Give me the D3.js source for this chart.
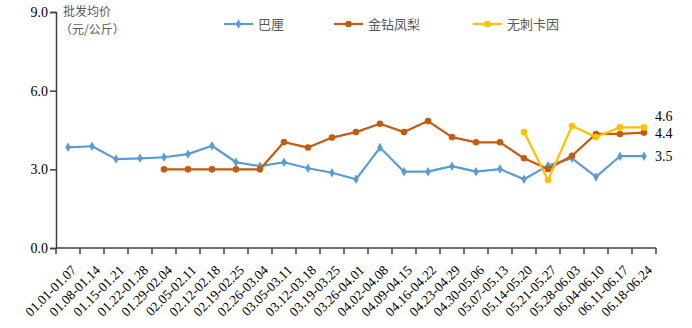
<!DOCTYPE html>
<html>
<head>
<meta charset="utf-8">
<script src="https://cdn.jsdelivr.net/npm/d3@7/dist/d3.min.js"></script>
<style>
  html, body { margin: 0; padding: 0; background: #fff; }
  svg { display: block; }
</style>
</head>
<body>
<svg id="chart" width="692" height="328"></svg>
<script>
// Weekly periods
const categories = [
  "01.01-01.07", "01.08-01.14", "01.15-01.21", "01.22-01.28", "01.29-02.04",
  "02.05-02.11", "02.12-02.18", "02.19-02.25", "02.26-03.04", "03.05-03.11",
  "03.12-03.18", "03.19-03.25", "03.26-04.01", "04.02-04.08", "04.09-04.15",
  "04.16-04.22", "04.23-04.29", "04.30-05.06", "05.07-05.13", "05.14-05.20",
  "05.21-05.27", "05.28-06.03", "06.04-06.10", "06.11-06.17", "06.18-06.24"
];

// Wholesale average price (元/公斤)
const baliPrice = [
  3.84, 3.88, 3.39, 3.42, 3.46, 3.58, 3.90, 3.27, 3.12, 3.27,
  3.04, 2.87, 2.62, 3.83, 2.91, 2.91, 3.12, 2.91, 3.01, 2.62,
  3.14, 3.42, 2.71, 3.5, 3.5
];
const jinzuanPrice = [
  null, null, null, null, 3.0, 3.0, 3.0, 3.0, 3.0, 4.04,
  3.83, 4.21, 4.42, 4.74, 4.42, 4.84, 4.23, 4.03, 4.03, 3.42,
  3.01, 3.52, 4.35, 4.35, 4.4
];
const wuciPrice = [
  null, null, null, null, null, null, null, null, null, null,
  null, null, null, null, null, null, null, null, null, 4.42,
  2.59, 4.65, 4.23, 4.6, 4.6
];

const seriesNames = ["巴厘", "金钻凤梨", "无刺卡因"];
const seriesColors = ["#5B9BD5", "#C55A11", "#FFC000"];
const yTicks = [0, 3, 6, 9];
const titleLines = ["批发均价", "（元/公斤）"];

(function () {
  const series = [
    { name: seriesNames[0], values: baliPrice, color: seriesColors[0], marker: "diamond", labelDy: 0 },
    { name: seriesNames[1], values: jinzuanPrice, color: seriesColors[1], marker: "circle", labelDy: 0 },
    { name: seriesNames[2], values: wuciPrice, color: seriesColors[2], marker: "circle", labelDy: -11 }
  ];

  const svg = d3.select("#chart");
  const plotLeft = 56, plotRight = 656, plotTop = 12, plotBottom = 248;

  const x = d3.scaleBand().domain(categories).range([plotLeft, plotRight]).padding(0);
  const y = d3.scaleLinear().domain([0, 9]).range([plotBottom, plotTop]);
  const cx = c => x(c) + x.bandwidth() / 2;

  const axisColor = "#404040";
  const serif = "'Liberation Serif', 'Times New Roman', serif";
  const cjk = "'Noto Sans CJK SC', sans-serif";

  // Y axis
  const yAxis = d3.axisLeft(y).tickValues(yTicks).tickFormat(d3.format(".1f")).tickSize(6).tickPadding(2);
  const gy = svg.append("g").attr("transform", `translate(${plotLeft},0)`).call(yAxis);
  gy.select(".domain").attr("stroke", axisColor).attr("stroke-width", 1.5);
  gy.selectAll(".tick line").attr("stroke", axisColor).attr("stroke-width", 1.5);
  gy.selectAll(".tick text").attr("fill", "#000").style("font-family", serif).style("font-size", "14px");

  // X axis: ticks at band edges
  const edges = categories.map(c => x(c)).concat([plotRight]);
  svg.append("line")
    .attr("x1", plotLeft).attr("x2", plotRight).attr("y1", plotBottom).attr("y2", plotBottom)
    .attr("stroke", axisColor).attr("stroke-width", 1.5);
  svg.append("g").selectAll("line").data(edges).join("line")
    .attr("x1", d => d).attr("x2", d => d)
    .attr("y1", plotBottom).attr("y2", plotBottom + 6)
    .attr("stroke", axisColor).attr("stroke-width", 1.5);
  svg.append("g").selectAll("text").data(categories).join("text")
    .attr("transform", d => `translate(${cx(d) + 9},${plotBottom + 23}) rotate(-45)`)
    .attr("text-anchor", "end")
    .style("font-family", serif).style("font-size", "13.5px")
    .attr("fill", "#000")
    .text(d => d);

  // Axis title, two lines
  svg.append("g").selectAll("text").data(titleLines).join("text")
    .attr("x", (d, i) => i === 0 ? 63 : 60)
    .attr("y", (d, i) => 12 + i * 18)
    .attr("dy", "0.35em")
    .attr("fill", "#595959")
    .style("font-family", cjk).style("font-size", "12px")
    .text(d => d);

  // Lines and markers
  const line = d3.line()
    .defined(d => d.v != null)
    .x(d => cx(d.c))
    .y(d => y(d.v));

  series.forEach(s => {
    const pts = categories.map((c, i) => ({ c, v: s.values[i] }));
    svg.append("path").datum(pts)
      .attr("d", line)
      .attr("fill", "none")
      .attr("stroke", s.color)
      .attr("stroke-width", 2.2)
      .attr("stroke-linejoin", "round");
    const valid = pts.filter(d => d.v != null);
    if (s.marker === "circle") {
      svg.append("g").selectAll("circle").data(valid).join("circle")
        .attr("cx", d => cx(d.c)).attr("cy", d => y(d.v)).attr("r", 3.3)
        .attr("fill", s.color);
    } else {
      svg.append("g").selectAll("path").data(valid).join("path")
        .attr("d", d3.symbol(d3.symbolDiamond, 26))
        .attr("transform", d => `translate(${cx(d.c)},${y(d.v)})`)
        .attr("fill", s.color);
    }
    // End value label
    const last = valid[valid.length - 1];
    svg.append("text")
      .attr("x", 655).attr("y", y(last.v) + s.labelDy)
      .attr("dy", "0.35em")
      .style("font-family", serif).style("font-size", "14px")
      .attr("fill", "#000")
      .text(d3.format(".1f")(last.v));
  });

  // Legend
  const legendX = [224, 334, 473];
  series.forEach((s, i) => {
    const g = svg.append("g").attr("transform", `translate(${legendX[i]},24)`);
    g.append("line").attr("x1", 0).attr("x2", 29).attr("y1", 0).attr("y2", 0)
      .attr("stroke", s.color).attr("stroke-width", 2.2);
    if (s.marker === "circle") {
      g.append("circle").attr("cx", 14.5).attr("cy", 0).attr("r", 3.3).attr("fill", s.color);
    } else {
      g.append("path").attr("d", d3.symbol(d3.symbolDiamond, 26))
        .attr("transform", "translate(14.5,0)").attr("fill", s.color);
    }
    g.append("text").attr("x", 34).attr("y", 0).attr("dy", "0.35em")
      .attr("fill", "#595959")
      .style("font-family", cjk).style("font-size", "13px")
      .text(s.name);
  });
})();
</script>
</body>
</html>
